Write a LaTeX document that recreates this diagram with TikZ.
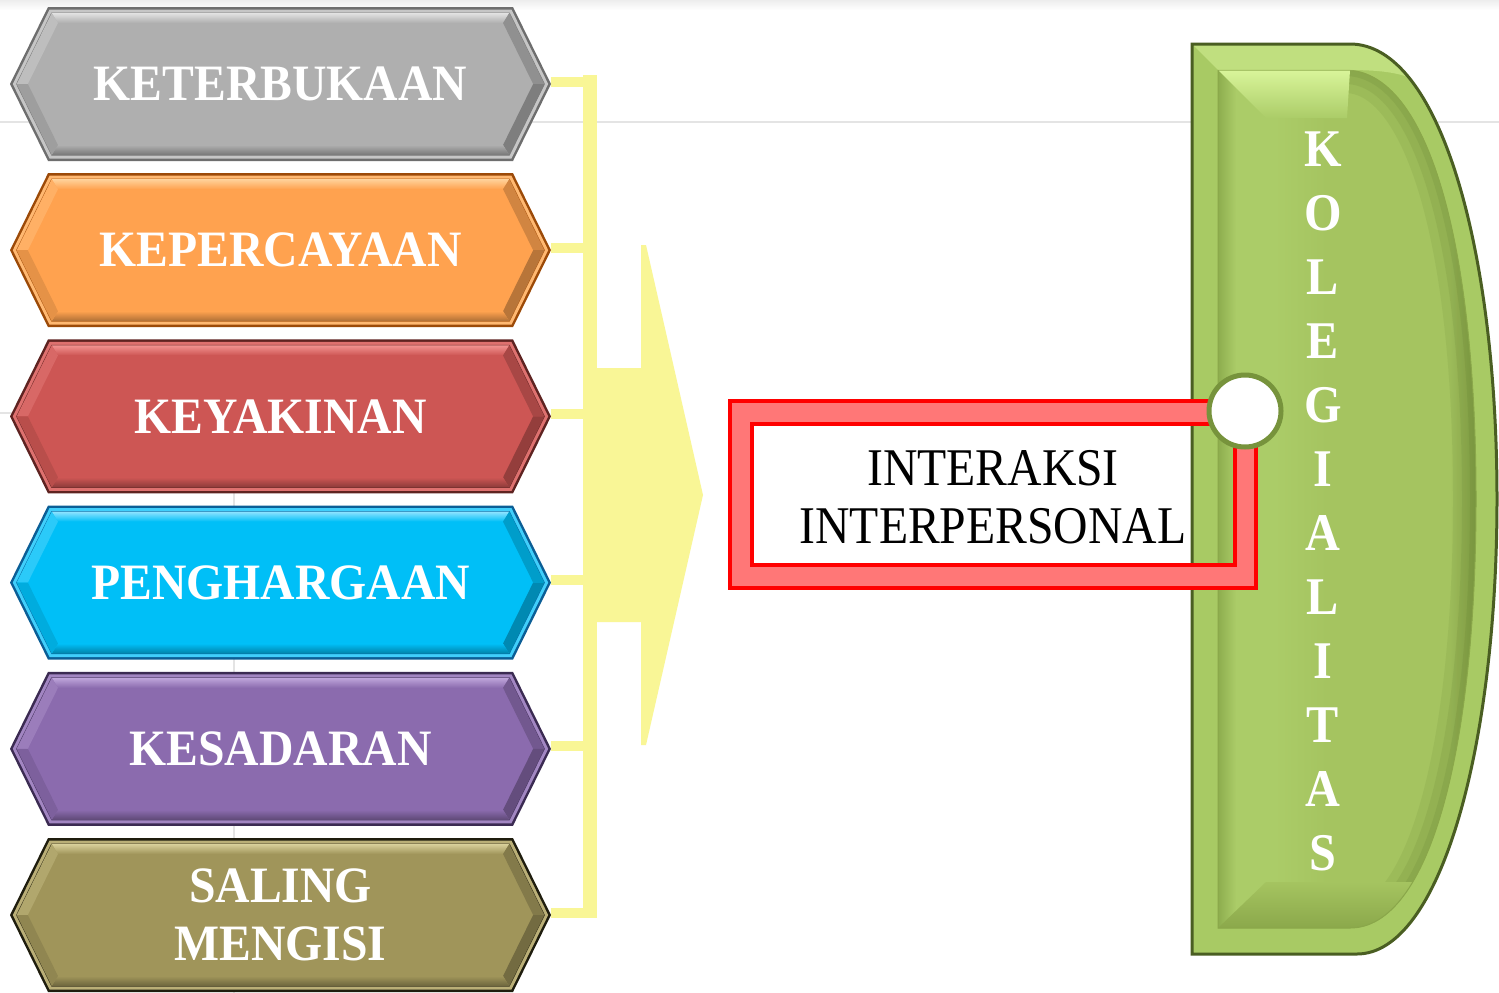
\documentclass[tikz,border=0pt]{standalone}
\usepackage{fontspec}
\setmainfont{Liberation Serif}
\newfontfamily\hexserif[FakeStretch=0.935]{Liberation Serif}
\newfontfamily\kolserif[FakeStretch=0.91]{Liberation Serif}
\newfontfamily\boxserif[FakeStretch=0.9]{Liberation Serif}
\usetikzlibrary{calc}

% palette
\definecolor{faintline}{HTML}{E4E4E4}
\definecolor{conyellow}{HTML}{F9F696}
\definecolor{grayface}{HTML}{AFAFAF}\definecolor{grayedge}{HTML}{6E6E6E}\definecolor{grayhi}{HTML}{E2E2E2}
\definecolor{orgface}{HTML}{FFA24F}\definecolor{orgedge}{HTML}{9C4A08}\definecolor{orghi}{HTML}{FFD29A}
\definecolor{redface}{HTML}{CD5654}\definecolor{rededge}{HTML}{5E2321}\definecolor{redhi}{HTML}{F29290}
\definecolor{cyaface}{HTML}{00BFF7}\definecolor{cyaedge}{HTML}{0B5E96}\definecolor{cyahi}{HTML}{8FE3FF}
\definecolor{purface}{HTML}{8B6BAE}\definecolor{puredge}{HTML}{3B2B52}\definecolor{purhi}{HTML}{BFA6DB}
\definecolor{oliface}{HTML}{A0955A}\definecolor{oliedge}{HTML}{1F1D0E}\definecolor{olihi}{HTML}{D9D09A}
\definecolor{gline}{HTML}{4A5E22}
\definecolor{grim}{HTML}{A8CA64}
\definecolor{gface}{HTML}{A5C460}
\definecolor{gshadow}{HTML}{8DAD4E}
\definecolor{glight}{HTML}{ABCC68}
\definecolor{gdark}{HTML}{8AA74A}
\definecolor{ghigh}{HTML}{D9F59A}
\definecolor{gdeep}{HTML}{5F7A2E}
\definecolor{framepink}{HTML}{FF7777}
\definecolor{framered}{HTML}{FF0000}
\definecolor{knobring}{HTML}{77933C}

\pgfdeclarehorizontalshading{kolface}{100bp}{color(0bp)=(gshadow); color(25bp)=(gshadow); color(28.5bp)=(glight); color(36bp)=(glight); color(46bp)=(gface); color(70bp)=(gface); color(75bp)=(gdark); color(100bp)=(gdark)}

% hexagon geometry: left tip, right tip, corner run, half height
\newcommand{\hxl}{10}
\newcommand{\hxr}{551}
\newcommand{\hc}{38}
\newcommand{\hh}{77}
% corner points of a hexagon inset by #2
\newcommand{\hexpts}[2]{%
  \coordinate (#1-1) at ({\hxl+1.116*#2},{\hcy});
  \coordinate (#1-2) at ({\hxl+\hc+0.622*#2},{\hcy-\hh+#2});
  \coordinate (#1-3) at ({\hxr-\hc-0.622*#2},{\hcy-\hh+#2});
  \coordinate (#1-4) at ({\hxr-1.116*#2},{\hcy});
  \coordinate (#1-5) at ({\hxr-\hc-0.622*#2},{\hcy+\hh-#2});
  \coordinate (#1-6) at ({\hxl+\hc+0.622*#2},{\hcy+\hh-#2});
}
% bevelled hexagon with its label: name, centre y, face, edge, highlight, text
\newcommand{\hexbox}[6]{%
  \def\hcy{#2}%
  \hexpts{#1o}{0}\hexpts{#1a}{2.5}\hexpts{#1b}{6}\hexpts{#1c}{16}%
  \fill[#4] (#1o-1) -- (#1o-2) -- (#1o-3) -- (#1o-4) -- (#1o-5) -- (#1o-6) -- cycle;
  \fill[#3!55!#5] (#1a-1) -- (#1a-2) -- (#1a-3) -- (#1a-4) -- (#1a-5) -- (#1a-6) -- cycle;
  \filldraw[fill=#3, draw=#4!80!#3, line width=1] (#1b-1) -- (#1b-2) -- (#1b-3) -- (#1b-4) -- (#1b-5) -- (#1b-6) -- cycle;
  \shade[top color=#5, bottom color=#3] (#1b-2) -- (#1b-3) -- (#1c-3) -- (#1c-2) -- cycle;
  \fill[#3!70!#5] (#1b-1) -- (#1b-2) -- (#1c-2) -- (#1c-1) -- cycle;
  \fill[#3!82!black] (#1b-3) -- (#1b-4) -- (#1c-4) -- (#1c-3) -- cycle;
  \fill[#3!72!black] (#1b-4) -- (#1b-5) -- (#1c-5) -- (#1c-4) -- cycle;
  \shade[top color=#3, bottom color=#3!68!black] (#1c-6) -- (#1c-5) -- (#1b-5) -- (#1b-6) -- cycle;
  \fill[#3!90!black] (#1b-6) -- (#1b-1) -- (#1c-1) -- (#1c-6) -- cycle;
  \coordinate (#1-tip) at (#1o-4);
  \coordinate (#1-stub) at ([yshift=2.5pt]#1o-4);
  \node[hexlabel] (#1) at ({(\hxl+\hxr)/2},#2) {#6};
}

% outline of the KOLEGIALITAS banner and of its inner face
\newcommand{\kolouter}{(1192,44) -- (1350,44) .. controls (1440,44) and (1497,250) .. (1497,499) .. controls (1497,748) and (1440,954) .. (1357,954) -- (1192,954) -- cycle}
\newcommand{\kolinner}{(1218,70) -- (1345,70) .. controls (1430,70) and (1476,250) .. (1476,499) .. controls (1476,748) and (1430,928) .. (1350,928) -- (1218,928) -- cycle}
\newcommand{\kolcurve}{(1345,70) .. controls (1430,70) and (1476,250) .. (1476,499) .. controls (1476,748) and (1430,928) .. (1350,928)}

\tikzset{
  hexlabel/.style={text=white, align=center, inner sep=0pt,
    font=\hexserif\bfseries\fontsize{51}{58}\selectfont},
  kollabel/.style={text=white, align=center, inner sep=0pt,
    font=\kolserif\bfseries\fontsize{53}{64}\selectfont},
  midlabel/.style={text=black, align=center, inner sep=0pt,
    font=\boxserif\fontsize{53}{58}\selectfont},
  yellowstub/.style={draw=conyellow, line width=10pt},
  faint/.style={draw=faintline, line width=2.5pt},
}

\begin{document}
\begin{tikzpicture}[x=1pt, y=-1pt]
  \useasboundingbox (0,0) rectangle (1499,993);
  \fill[white] (0,0) rectangle (1499,993);
  \shade[top color=black!7, bottom color=white] (0,0) rectangle (1499,10);

  % faint guide lines behind everything
  \draw[faint] (0,122) -- (1499,122);
  \draw[faint] (0,413) -- (200,413);
  \draw[faint] (234,470) -- (234,993);

  % the six value hexagons
  \hexbox{kt}{84}{grayface}{grayedge}{grayhi}{KETERBUKAAN}
  \hexbox{kp}{250.2}{orgface}{orgedge}{orghi}{KEPERCAYAAN}
  \hexbox{ky}{416.4}{redface}{rededge}{redhi}{KEYAKINAN}
  \hexbox{ph}{582.6}{cyaface}{cyaedge}{cyahi}{PENGHARGAAN}
  \hexbox{ks}{748.8}{purface}{puredge}{purhi}{KESADARAN}
  \hexbox{sm}{915}{oliface}{oliedge}{olihi}{SALING\\MENGISI}

  % yellow bracket collecting the hexagons
  \node[fill=conyellow, minimum width=14pt, minimum height=843pt, inner sep=0pt, anchor=north] (bar) at (590,75) {};
  \foreach \h in {kt,kp,ky,ph,ks,sm}
    \draw[yellowstub] (\h-stub) -- (\h-stub -| bar.center);
  % block arrow pointing to the interaction box
  \fill[conyellow] (bar.center |- 0,368) -- (641,368) -- (641,245) -- (646,245) -- (703,495)
    -- (646,745) -- (641,745) -- (641,622) -- (bar.center |- 0,622) -- cycle;

  % KOLEGIALITAS banner
  \fill[grim] \kolouter;
  \shade[shading=kolface] \kolinner;
  \begin{scope}
    \clip \kolinner;
    \draw[gdeep, opacity=0.12, line width=46pt] \kolcurve;
    \draw[gdeep, opacity=0.14, line width=28pt] \kolcurve;
    \draw[gdeep, opacity=0.16, line width=12pt] \kolcurve;
    \shade[top color=ghigh, bottom color=glight] (1218,70) -- (1350,70) -- (1347,118) -- (1266,118) -- cycle;
    \shade[top color=gface, bottom color=gdark] (1218,928) -- (1266,882) -- (1350,882) -- (1450,882) -- (1450,930) -- cycle;
  \end{scope}
  \draw[gdark, line width=1pt] \kolinner;
  \begin{scope}
    \clip \kolouter;
    \fill[ghigh, opacity=0.5] (1192,44) -- (1350,44) .. controls (1395,44) and (1425,58) .. (1440,80)
      -- (1420,82) .. controls (1400,72) and (1380,70) .. (1345,70) -- (1218,70) -- cycle;
  \end{scope}
  \draw[gline, line width=3pt] \kolouter;

  % interaction frame
  \coordinate (fo-nw) at (730,401);
  \coordinate (fo-se) at (1256,588);
  \coordinate (fi-nw) at (752,424);
  \coordinate (fi-se) at (1235,565);
  \fill[framepink, even odd rule] (fo-nw) rectangle (fo-se) (fi-nw) rectangle (fi-se);
  \draw[framered, line width=4pt] (fo-nw) rectangle (fo-se);
  \draw[framered, line width=4pt] (fi-nw) rectangle (fi-se);

  % knob joining frame and banner
  \node[circle, draw=knobring, fill=white, line width=5pt, minimum size=72pt, inner sep=0pt] (knob) at (1245,411) {};

  % labels
  \node[midlabel] (ip) at (993,497) {INTERAKSI\\INTERPERSONAL};
  \node[kollabel] (kol) at (1323,501) {K\\O\\L\\E\\G\\I\\A\\L\\I\\T\\A\\S};
\end{tikzpicture}
\end{document}
